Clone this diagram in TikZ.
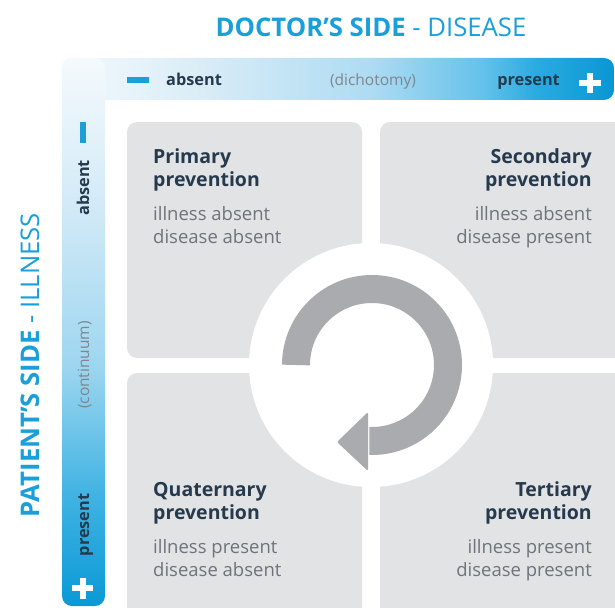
\documentclass[tikz,border=0pt]{standalone}
\usepackage{fontspec}
\setmainfont{Open Sans}
\definecolor{blueT}{HTML}{1A9FD9}
\definecolor{navy}{HTML}{263A4E}
\definecolor{graytxt}{HTML}{6E747A}
\definecolor{quad}{HTML}{E2E3E5}
\definecolor{arrowg}{HTML}{A9ABAE}
\definecolor{paren}{HTML}{7E868E}
\pgfdeclarehorizontalshading{topbarshade}{100bp}{rgb(0bp)=(0.95,0.98,0.99); rgb(25bp)=(0.95,0.98,0.99); rgb(37bp)=(0.86,0.93,0.97); rgb(53bp)=(0.68,0.86,0.95); rgb(63bp)=(0.40,0.76,0.92); rgb(68bp)=(0.16,0.67,0.88); rgb(75bp)=(0.04,0.59,0.83); rgb(100bp)=(0.04,0.59,0.83)}
\pgfdeclareverticalshading{leftbarshade}{100bp}{rgb(0bp)=(0.04,0.60,0.84); rgb(25bp)=(0.04,0.60,0.84); rgb(35bp)=(0.25,0.70,0.89); rgb(47bp)=(0.62,0.84,0.94); rgb(62bp)=(0.83,0.92,0.97); rgb(75bp)=(0.96,0.98,0.99); rgb(100bp)=(0.96,0.98,0.99)}
\tikzset{
  barb/.style={font=\fontsize{16.3}{18}\selectfont\bfseries, text=navy, inner sep=0pt},
  barr/.style={font=\fontsize{15.5}{18}\selectfont, text=paren, inner sep=0pt},
  head/.style={font=\fontsize{19.5}{23}\selectfont\bfseries, text=navy, inner sep=0pt},
  body/.style={font=\fontsize{18.5}{23}\selectfont, text=graytxt, inner sep=0pt},
  quadbox/.style={fill=quad, rounded corners=10pt},
}
\begin{document}
\begin{tikzpicture}[x=1pt,y=-1pt]
\useasboundingbox (0,0) rectangle (615,607);
% title
\node[anchor=base, inner sep=0pt] (title) at (371,37) {\textcolor{blueT}{\fontsize{25.7}{30}\selectfont\bfseries DOCTOR’S SIDE}\textcolor{blueT}{\fontsize{25.7}{30}\selectfont{} - DISEASE}};
\node[anchor=base, rotate=90, inner sep=0pt] (ltitle) at (39,365) {\textcolor{blueT}{\fontsize{25.7}{30}\selectfont\bfseries PATIENT’S SIDE}\textcolor{blueT}{\fontsize{25.7}{30}\selectfont{} - ILLNESS}};
% bars
\path[shading=topbarshade, rounded corners=10pt] (62,58) rectangle (614,100);
\path[shading=leftbarshade, rounded corners=10pt] (62,58) rectangle (105,606);
% minus / plus
\fill[blueT] (127,77.5) rectangle (149,83.5);
\fill[white] (579,80) rectangle (601,86);
\fill[white] (587,73) rectangle (593,93);
\fill[blueT] (79.5,122) rectangle (85.5,143);
\fill[white] (72,585) rectangle (93,591);
\fill[white] (79.5,577.5) rectangle (85.5,598.5);
% bar labels
\node[barb, anchor=base west] (tabs) at (166,86) {absent};
\node[barr, anchor=base] (tdic) at (373,86) {(dichotomy)};
\node[barb, anchor=base east] (tpre) at (560,86) {present};
\node[barb, anchor=base, rotate=90] (labs) at (89,188) {absent};
\node[barr, anchor=base, rotate=90] (lcon) at (89,365) {(continuum)};
\node[barb, anchor=base, rotate=90] (lpre) at (89,525) {present};
% quadrants
\path[quadbox] (127,122) rectangle (362,358);
\path[quadbox] (380,122) rectangle (630,358);
\path[quadbox] (127,373) rectangle (362,620);
\path[quadbox] (380,373) rectangle (630,620);
% centre circle and arrow
\fill[white] (371,365) circle (122);
\draw[arrowg, line width=28pt] (372,365) ++(180:76) arc[start angle=180, end angle=452, radius=76];
\fill[arrowg, rounded corners=2pt] (368,412) -- (337,442) -- (368,471) -- cycle;
% quadrant texts
\node[head, anchor=base west] (q1a) at (153,163) {Primary};
\node[head, anchor=base west] (q1b) at (153,186) {prevention};
\node[body, anchor=base west] (q1c) at (153,220) {illness absent};
\node[body, anchor=base west] (q1d) at (153,243) {disease absent};
\node[head, anchor=base east] (q2a) at (592,163) {Secondary};
\node[head, anchor=base east] (q2b) at (592,186) {prevention};
\node[body, anchor=base east] (q2c) at (592,220) {illness absent};
\node[body, anchor=base east] (q2d) at (592,243) {disease present};
\node[head, anchor=base west] (q3a) at (153,496) {Quaternary};
\node[head, anchor=base west] (q3b) at (153,519) {prevention};
\node[body, anchor=base west] (q3c) at (153,553) {illness present};
\node[body, anchor=base west] (q3d) at (153,576) {disease absent};
\node[head, anchor=base east] (q4a) at (592,496) {Tertiary};
\node[head, anchor=base east] (q4b) at (592,519) {prevention};
\node[body, anchor=base east] (q4c) at (592,553) {illness present};
\node[body, anchor=base east] (q4d) at (592,576) {disease present};
\end{tikzpicture}
\end{document}
